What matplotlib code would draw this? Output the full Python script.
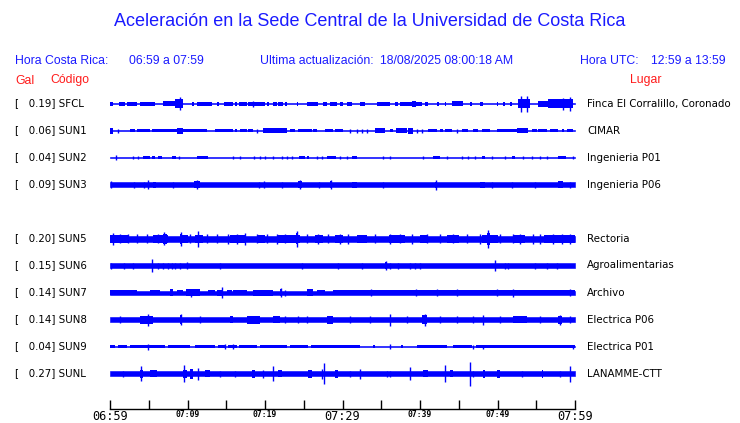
import matplotlib
matplotlib.use('Agg')
import matplotlib.pyplot as plt

# Estaciones (SUN4 no tiene datos, fila vacia)
codes = ['SFCL', 'SUN1', 'SUN2', 'SUN3', None, 'SUN5', 'SUN6', 'SUN7', 'SUN8', 'SUN9', 'SUNL']
gal = ['0.19', '0.06', '0.04', '0.09', None, '0.20', '0.15', '0.14', '0.14', '0.04', '0.27']
places = ['Finca El Corralillo, Coronado', 'CIMAR', 'Ingenieria P01', 'Ingenieria P06', None,
          'Rectoria', 'Agroalimentarias', 'Archivo', 'Electrica P06', 'Electrica P01', 'LANAMME-CTT']

# semi-amplitud de fondo de cada traza (px)
base = [0.7, 0.7, 0.6, 2.1, None, 3.0, 2.2, 2.0, 2.6, 0.9, 2.2]

# envolventes leidas: (minuto inicio, minuto fin, semi-amplitud px); inicio == fin -> pico
sfcl = [(0, 0.4, 2), (1.2, 1.9, 2), (2.2, 3.5, 2), (3.9, 5.8, 2), (6.8, 8.4, 2.5), (8.4, 9.4, 4.5),
        (9.0, 9.0, 6.5), (10.6, 10.8, 2), (11.2, 13.2, 2), (13.8, 14.0, 2), (14.7, 15.9, 2),
        (16.1, 16.4, 2), (16.6, 17.7, 2), (17.8, 20.0, 2), (18.4, 18.4, 3), (20.3, 20.5, 2),
        (21.0, 21.5, 2), (21.7, 22.3, 2), (22.6, 22.8, 2), (24.1, 24.3, 2), (25.4, 26.8, 2),
        (27.5, 28.0, 2), (28.4, 29.3, 2), (29.7, 30.1, 2), (30.6, 31.2, 2), (32.3, 32.9, 2),
        (34.5, 36.1, 2), (36.8, 37.2, 2), (37.4, 40.3, 2), (39.0, 39.5, 3), (40.6, 41.0, 2),
        (42.2, 42.4, 2), (43.2, 43.4, 2), (44.1, 45.5, 2.5), (46.5, 46.7, 2), (47.7, 48.1, 2),
        (49.9, 50.1, 2), (50.7, 51.0, 2), (51.6, 51.9, 2), (52.6, 54.2, 4.5), (53.0, 53.0, 8),
        (53.8, 53.8, 8), (55.2, 56.5, 3), (56.5, 59.7, 4.5), (58.5, 58.5, 6), (59.4, 59.4, 7)]
sun1 = [(0, 0.4, 3), (1.0, 1.0, 2), (2.6, 3.2, 1.8), (3.5, 5.2, 1.8), (5.4, 8.6, 1.8), (8.6, 9.4, 3),
        (9.4, 12.5, 1.8), (13.5, 15.9, 1.8), (16.1, 16.4, 1.8), (16.8, 17.7, 1.8), (17.8, 18.5, 1.8),
        (19.0, 19.0, 2), (19.7, 22.9, 2.3), (23.2, 23.9, 1.8), (24.3, 26.1, 1.8), (26.2, 26.7, 1.8),
        (27.7, 28.8, 1.8), (29.0, 30.0, 1.8), (31.0, 31.0, 2), (31.9, 31.9, 2), (32.5, 32.5, 2),
        (33.2, 33.2, 2), (34.2, 35.5, 2.8), (36.1, 36.5, 1.8), (36.9, 38.3, 2.5), (38.5, 39.1, 3),
        (39.6, 39.6, 2), (40.3, 40.3, 2), (41.0, 42.2, 1.8), (42.6, 43.0, 1.8), (43.2, 44.1, 1.8),
        (44.8, 44.8, 2), (45.4, 46.2, 1.8), (46.8, 47.5, 1.8), (48.0, 49.0, 1.8), (49.9, 52.5, 1.8),
        (52.5, 53.9, 2.8), (54.5, 55.1, 1.8), (55.2, 56.4, 1.8), (56.8, 57.8, 1.8), (58.3, 58.6, 1.8),
        (59.0, 59.7, 1.8)]
sun2 = [(0.8, 0.8, 2.5), (3.0, 3.0, 1.5), (3.6, 3.6, 1.5), (4.3, 5.2, 1.7), (5.4, 5.8, 1.7),
        (6.2, 6.7, 1.7), (8.0, 8.5, 1.7), (8.9, 8.9, 1.5), (11.2, 11.6, 1.8), (11.6, 12.6, 1.3),
        (15.9, 15.9, 1.5), (16.8, 16.8, 1.5), (18.6, 18.6, 1.2), (19.4, 19.4, 1.2), (20.0, 20.0, 1.2),
        (21.0, 21.0, 1.2), (22.2, 22.2, 1.2), (22.8, 22.8, 1.2), (23.5, 23.5, 1.2), (24.4, 25.2, 1.8),
        (25.4, 25.7, 1.5), (26.7, 26.7, 1.2), (27.4, 27.4, 1.2), (28.0, 29.2, 1.8), (29.7, 29.7, 1.2),
        (30.6, 30.6, 1.2), (31.2, 31.9, 1.8), (35.2, 35.2, 1.5), (36.1, 36.1, 1.2), (40.4, 40.4, 1.2),
        (41.7, 42.6, 1.8), (43.5, 43.5, 1.2), (45.4, 45.4, 1.2), (46.2, 46.2, 1.2), (47.1, 47.1, 1.2),
        (48.0, 48.4, 1.5), (49.3, 49.3, 1.2), (51.0, 51.0, 1.2), (51.9, 52.3, 1.5), (53.3, 53.3, 1.2),
        (54.5, 54.5, 1.2), (55.5, 55.5, 1.2), (56.4, 56.4, 1.2), (57.8, 58.9, 1.8), (59.7, 59.7, 1.2)]
sun3 = [(0.1, 0.1, 3.5), (3.1, 3.1, 3), (4.4, 4.4, 3), (4.9, 4.9, 4.5), (5.5, 5.9, 3), (8.1, 8.1, 3),
        (10.9, 11.6, 3.5), (11.2, 11.2, 4.5), (19.2, 19.2, 3), (19.9, 19.9, 3.2), (22.2, 22.2, 3),
        (24.3, 24.8, 3.2), (24.5, 24.5, 4.5), (27.0, 27.0, 3), (28.4, 28.6, 3.2), (28.5, 28.5, 4.2),
        (31.2, 31.9, 3), (35.2, 35.2, 3), (41.9, 42.2, 3), (42.0, 42.0, 5), (47.7, 48.4, 3),
        (49.3, 49.3, 3), (51.9, 51.9, 3), (54.8, 54.8, 3), (57.8, 58.5, 3.2), (59.4, 59.4, 3)]
sun5 = [(0, 2.5, 4), (5.5, 7.5, 4), (9, 10, 4), (11, 12, 4), (15.5, 17.5, 4), (19, 20, 4),
        (21.5, 24.5, 4), (26.5, 27.5, 4), (29, 30, 4), (31.9, 33.2, 4), (36, 38, 4), (40, 41, 4),
        (43.5, 45, 4), (48, 50, 4), (52, 53.5, 4), (56, 60, 4),
        (0.4, 0.4, 6), (1.3, 1.3, 4.5), (2.3, 2.3, 4.5), (3.5, 3.5, 4.5), (4.8, 4.8, 4.5),
        (6.2, 6.2, 4.5), (6.8, 7.4, 5), (7.0, 7.0, 6.5), (9.0, 9.3, 5), (9.1, 9.1, 7), (10.3, 10.3, 4.5),
        (11.4, 11.4, 8), (12.5, 12.5, 4.5), (13.8, 13.8, 4.5), (15.2, 15.2, 5), (16.4, 16.4, 5),
        (17.4, 17.4, 6), (19.0, 19.0, 4.5), (20.3, 20.3, 4.5), (21.5, 21.5, 5), (22.6, 22.6, 4.5),
        (24.0, 24.3, 5.5), (24.1, 24.1, 8), (25.4, 25.4, 4.5), (26.8, 26.8, 5), (28.1, 28.1, 4.5),
        (29.7, 29.7, 5), (30.7, 30.7, 5), (34.2, 34.2, 4.5), (36.1, 36.1, 5), (37.4, 37.4, 4.5),
        (39.0, 39.0, 5), (40.9, 40.9, 4.5), (42.6, 42.6, 4.5), (44.3, 44.3, 4.5), (46.1, 46.1, 4.5),
        (47.7, 47.7, 5), (48.6, 49.0, 6), (48.8, 48.8, 9), (50.3, 50.3, 4.5), (52.0, 52.0, 4.5),
        (52.9, 52.9, 5), (54.6, 54.6, 5), (55.5, 55.5, 5), (57.2, 57.2, 5), (58.3, 58.3, 5),
        (59.4, 59.4, 5)]
sun6 = [(0.1, 0.1, 3), (1.8, 1.8, 3), (3.0, 3.0, 3), (5.4, 5.4, 6.5), (6.2, 6.2, 3), (6.8, 6.8, 3),
        (7.5, 7.5, 3), (8.0, 8.0, 3), (8.4, 8.4, 3), (9.0, 9.0, 3), (9.9, 9.9, 3.2), (14.2, 14.2, 3),
        (24.8, 24.8, 3), (29.4, 29.4, 3), (32.5, 32.5, 3), (35.5, 35.7, 3.5), (35.6, 35.6, 4.5),
        (36.1, 36.1, 3), (37.2, 37.2, 3), (38.7, 38.7, 3), (39.4, 39.4, 3), (40.0, 40.0, 3),
        (49.7, 49.7, 5.5), (51.0, 51.0, 3), (51.4, 51.4, 3), (54.8, 54.8, 3), (56.4, 56.4, 3),
        (57.7, 57.7, 3)]
sun7 = [(0, 3.5, 2.8), (5.2, 6.5, 2.8), (7.7, 8.1, 3.5), (8.6, 9.4, 2.8), (9.8, 11.6, 3.2),
        (10.5, 10.5, 4), (12.6, 13.5, 2.8), (13.8, 14.6, 3), (14.5, 14.5, 5.7), (15.1, 15.7, 2.8),
        (15.9, 17.7, 2.8), (18.5, 21.0, 3), (21.9, 22.2, 3.5), (22.0, 22.0, 4.5), (22.6, 22.6, 3),
        (25.4, 26.2, 3.2), (26.7, 27.7, 2.8), (28.8, 31.0, 2.8), (31.0, 60, 2.5),
        (33.7, 33.7, 3.5), (39.5, 39.5, 3.5), (42.2, 42.2, 3.5), (44.8, 44.8, 3.5), (49.9, 49.9, 3.5),
        (52.0, 52.0, 4), (59.4, 59.4, 3.5)]
sun8 = [(1.3, 1.3, 3.2), (3.9, 5.5, 4), (4.9, 4.9, 6), (9.0, 9.3, 4.5), (9.1, 9.1, 5.5),
        (11.6, 11.6, 3.5), (15.5, 15.9, 3.5), (17.7, 19.4, 4), (21.0, 21.9, 3.5), (22.6, 22.6, 3.5),
        (24.3, 24.3, 3.5), (25.4, 25.4, 3.5), (28.0, 28.8, 4), (31.0, 31.0, 3.5), (33.5, 33.5, 3.5),
        (36.1, 36.1, 6), (38.3, 38.3, 3.5), (40.3, 40.9, 4.5), (40.6, 40.6, 6), (42.6, 42.6, 3.5),
        (44.8, 44.8, 3.5), (46.8, 46.8, 3.5), (48.1, 48.1, 5), (50.3, 50.3, 3.5), (52.0, 53.8, 3.5),
        (55.5, 55.5, 3.5), (57.8, 58.3, 4), (58.1, 58.1, 5), (59.4, 59.4, 3.5)]
sun9 = [(0, 0.6, 1.7), (1.0, 2.2, 1.7), (2.6, 7.1, 1.7), (7.5, 10.3, 1.7), (11.0, 13.6, 1.7),
        (13.9, 15.0, 1.7), (15.2, 16.4, 1.7), (16.6, 19.0, 1.7), (19.4, 22.8, 1.7), (23.2, 25.6, 1.7),
        (25.9, 32.3, 1.7), (33.9, 34.2, 1.7), (36.1, 36.3, 1.7), (37.6, 37.8, 1.7), (39.6, 43.5, 1.7),
        (44.2, 46.7, 1.7), (47.2, 60, 1.7),
        (4.9, 4.9, 3), (14.8, 14.8, 2.3), (15.9, 15.9, 2.3), (36.1, 36.1, 2.8), (46.8, 46.8, 2),
        (48.1, 48.1, 2), (59.7, 59.7, 2)]
sunl = [(1.7, 1.7, 3), (3.9, 4.2, 4), (4.0, 4.0, 7.3), (5.2, 6.1, 3.5), (9.4, 9.9, 4), (9.6, 9.6, 8.7),
        (10.3, 10.7, 5), (11.4, 11.4, 6), (12.3, 12.9, 3.5), (14.2, 14.2, 3), (16.1, 16.1, 3),
        (18.3, 18.7, 4), (19.7, 19.7, 4), (21.0, 21.0, 7.5), (21.7, 22.2, 3.5), (25.5, 26.1, 4),
        (27.3, 27.3, 5), (27.6, 27.6, 10.5), (29.0, 29.4, 4), (31.0, 31.0, 3), (32.3, 32.3, 5),
        (35.7, 35.7, 3), (36.1, 36.1, 3), (38.7, 38.7, 6.7), (40.4, 41.0, 3.5), (43.2, 43.2, 8.3),
        (43.9, 44.3, 3.5), (46.5, 46.5, 12), (46.8, 46.8, 3), (48.1, 48.4, 4), (49.9, 50.3, 4),
        (53.2, 53.2, 3), (55.7, 55.9, 4), (58.1, 58.1, 3), (59.4, 59.4, 8)]
traces = [sfcl, sun1, sun2, sun3, None, sun5, sun6, sun7, sun8, sun9, sunl]

time_labels = ['06:59', '', '07:09', '', '07:19', '', '07:29', '', '07:39', '', '07:49', '', '07:59']

BLUE = '#0000ff'
TXT_BLUE = '#1a1aff'
RED = '#ff1a1a'
W, H = 740, 423

fig = plt.figure(figsize=(7.4, 4.23), dpi=100)


def fx(x):
    return x / W


def fy(y):
    return 1 - y / H


hdr = dict(family='Liberation Sans', color=TXT_BLUE, fontsize=8.8, va='center', ha='left')
fig.text(fx(370), fy(22), 'Aceleración en la Sede Central de la Universidad de Costa Rica',
         family='Liberation Sans', color=TXT_BLUE, fontsize=13, ha='center', va='center')
fig.text(fx(15), fy(60.5), 'Hora Costa Rica:', **hdr)
fig.text(fx(129), fy(60.5), '06:59 a 07:59', **hdr)
fig.text(fx(260.5), fy(60.5), 'Ultima actualización:', **hdr)
fig.text(fx(380.5), fy(60.5), '18/08/2025 08:00:18 AM', **hdr)
fig.text(fx(580.5), fy(60.5), 'Hora UTC:', **hdr)
fig.text(fx(651), fy(60.5), '12:59 a 13:59', **hdr)

red = dict(hdr, color=RED)
fig.text(fx(15), fy(80.5), 'Gal', **red)
fig.text(fx(50), fy(80.5), 'Código', **red)
fig.text(fx(630), fy(80.5), 'Lugar', **red)

# trazas
ax = fig.add_axes([fx(110), fy(395), 465 / W, 315 / H])
ax.set_xlim(0, 60)
ax.set_ylim(395, 80)
ax.axis('off')

for i in range(len(codes)):
    if codes[i] is None:
        continue
    yc = 103.5 + 27 * i
    b = base[i]
    ax.fill_between([0, 60], yc - b, yc + b, color=BLUE, lw=0.4)
    for t0, t1, a in traces[i]:
        if t1 - t0 < 0.1:
            ax.vlines(t0, yc - a, yc + a, color=BLUE, lw=1.0)
        else:
            ax.fill_between([t0, t1], yc - a, yc + a, color=BLUE, lw=0)
    fig.text(fx(15), fy(yc), '[   %s] %s' % (gal[i], codes[i]), family='DejaVu Sans',
             fontsize=7.4, va='center', ha='left')
    fig.text(fx(587), fy(yc), places[i], family='DejaVu Sans', fontsize=7.4,
             va='center', ha='left')

# eje de tiempo
ax2 = fig.add_axes([fx(110), fy(409), 465 / W, 3 / H])
ax2.set_xlim(0, 60)
ax2.patch.set_visible(False)
for s in ['top', 'left', 'right']:
    ax2.spines[s].set_visible(False)
ax2.spines['bottom'].set_linewidth(1.0)
ax2.set_yticks([])
ax2.set_xticks(range(0, 61, 5), time_labels)
ax2.tick_params(axis='x', direction='in', length=6.8, width=1.0, pad=1.0)
for lbl in ax2.get_xticklabels():
    t = lbl.get_text()
    lbl.set_fontfamily('DejaVu Sans Mono')
    if t in ('06:59', '07:29', '07:59'):
        lbl.set_fontsize(8.6)
    else:
        lbl.set_fontsize(5.8)
        lbl.set_fontweight('bold')

fig.savefig('out.png', dpi=100)
